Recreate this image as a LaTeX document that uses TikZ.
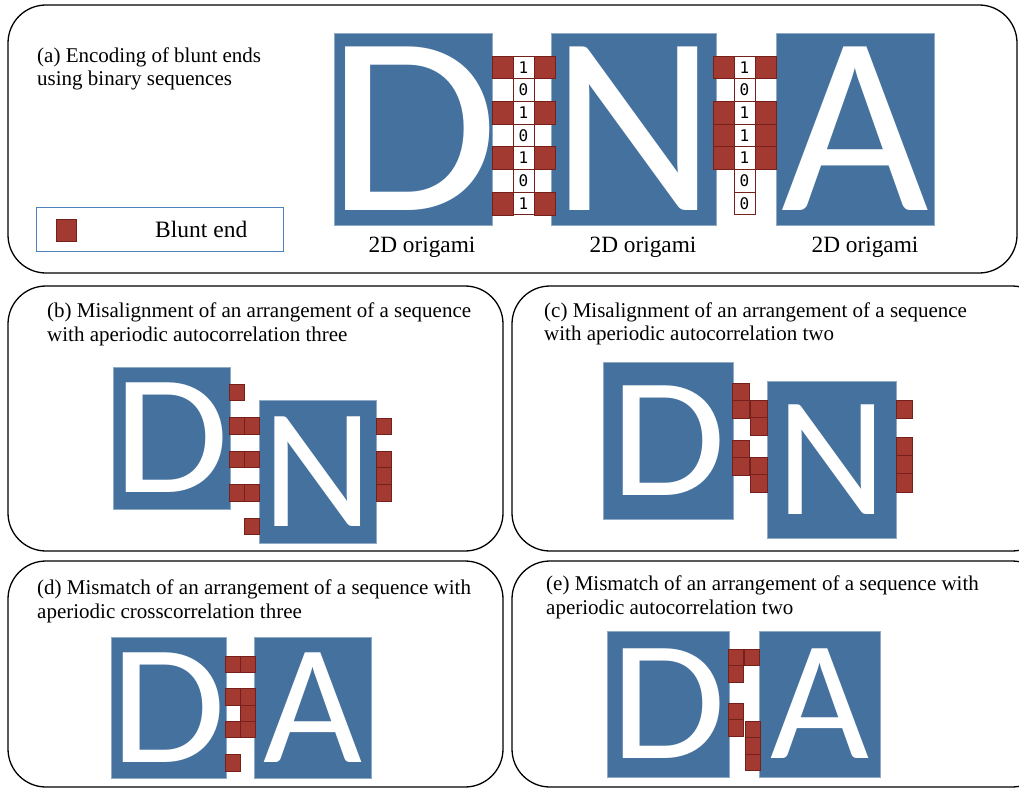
\documentclass[tikz,border=0pt]{standalone}
\usepackage{fontspec}
\setmainfont{Liberation Serif}
\newfontfamily\lettfont{Carlito}
\newfontfamily\bitfont{DejaVu Sans Mono}
\definecolor{origami}{RGB}{68,113,158}
\definecolor{bluntfill}{RGB}{163,58,50}
\definecolor{bluntedge}{RGB}{118,32,28}
\definecolor{legendedge}{RGB}{79,129,189}
\newcommand\wideD{\makebox[0pt]{\scalebox{1.1}[1]{D}}}
\tikzset{
  panel/.style={draw=black, line width=1.3pt, rounded corners=38pt},
  origami/.style={fill=origami, draw=origami!60!white, line width=0.5pt, text=white, inner sep=0pt},
  bigletter/.style={font=\lettfont\fontsize{255}{255}\selectfont},
  letter/.style={font=\lettfont\fontsize{171}{171}\selectfont},
  blunt/.style={fill=bluntfill, draw=bluntedge, line width=0.7pt},
  bitbox/.style={fill=white, draw=bluntedge, line width=0.9pt, inner sep=0pt,
    minimum width=21pt, minimum height=22.7pt, font=\bitfont\fontsize{16}{16}\selectfont},
  caption/.style={anchor=base west, inner sep=0pt, font=\fontsize{21}{24}\selectfont},
  origlabel/.style={anchor=base, inner sep=0pt, font=\fontsize{23.3}{23}\selectfont},
}
\begin{document}
\begin{tikzpicture}[x=1pt,y=-1pt]
\useasboundingbox (0,0) rectangle (1019,789);
\clip (0,0) rectangle (1019,789);

% ---------- frames of the five panels ----------
\draw[panel] (8,5) rectangle (1017,273);
\draw[panel] (8,286) rectangle (503,551);
\draw[panel] (512,286) rectangle (1050,551);
\draw[panel] (8,561) rectangle (503,787);
\draw[panel] (512,561) rectangle (1050,787);

% ---------- (a) encoding ----------
\node[caption] (capa1) at (37,63) {(a) Encoding of blunt ends};
\node[caption] (capa2) at (37,86) {using binary sequences};

\node[draw=legendedge, line width=1pt, minimum width=247pt, minimum height=44pt, inner sep=0pt] (legend) at (159.5,229) {};
\draw[blunt] (56,219) rectangle (76,241);
\node[anchor=base west, inner sep=0pt, font=\fontsize{23.5}{23}\selectfont] (legtext) at (155,237) {Blunt end};

\node[origami, bigletter, minimum width=158pt, minimum height=192pt] (Da) at (413,129) {\wideD};
\node[origami, bigletter, minimum width=158pt, minimum height=192pt] (Na) at (634,129) {N};
\node[origami, bigletter, minimum width=158pt, minimum height=192pt] (Aa) at (855,129) {A};

\node[origlabel] (lD) at (422,252) {2D origami};
\node[origlabel] (lN) at (643,252) {2D origami};
\node[origlabel] (lA) at (865,252) {2D origami};

% binary column between D and N
\foreach \b [count=\i from 0] in {1,0,1,0,1,0,1}{
  \pgfmathsetmacro\yy{56+\i*22.7}
  \ifnum\b=1
    \draw[blunt] (492,\yy) rectangle ++(21,22.7);
    \draw[blunt] (534,\yy) rectangle ++(21,22.7);
  \fi
  \node[bitbox] (dn\i) at (523.5,\yy+11.35) {\b};
}
% binary column between N and A
\foreach \b [count=\i from 0] in {1,0,1,1,1,0,0}{
  \pgfmathsetmacro\yy{56+\i*22.7}
  \ifnum\b=1
    \draw[blunt] (713,\yy) rectangle ++(21,22.7);
    \draw[blunt] (755,\yy) rectangle ++(21,22.7);
  \fi
  \node[bitbox] (na\i) at (744.5,\yy+11.35) {\b};
}

% ---------- (b) ----------
\node[caption] (capb1) at (47,317) {(b) Misalignment of an arrangement of a sequence};
\node[caption] (capb2) at (47,341) {with aperiodic autocorrelation three};
\node[origami, letter, minimum width=117pt, minimum height=142pt] (Db) at (171.5,438) {\wideD};
\node[origami, letter, minimum width=117pt, minimum height=143pt] (Nb) at (317.5,471.5) {N};
\foreach \y in {384,417.5,451,484.5} \draw[blunt] (229,\y) rectangle ++(15,16.7);
\foreach \y in {417.5,451,484.5,518} \draw[blunt] (244,\y) rectangle ++(15,16.7);
\foreach \y in {418,451,467.7,484.4} \draw[blunt] (376,\y) rectangle ++(15,16.7);

% ---------- (c) ----------
\node[caption] (capc1) at (544,317) {(c) Misalignment of an arrangement of a sequence};
\node[caption] (capc2) at (544,340) {with aperiodic autocorrelation two};
\node[origami, letter, minimum width=130pt, minimum height=157pt] (Dc) at (668,440.5) {\wideD};
\node[origami, letter, minimum width=129pt, minimum height=157pt] (Nc) at (831.5,459.5) {N};
\foreach \y in {383,400.5,440,457.5} \draw[blunt] (732,\y) rectangle ++(17,17.5);
\foreach \y in {400,417.5,457,474.5} \draw[blunt] (750,\y) rectangle ++(17,17.5);
\foreach \y in {400,437,455.3,473.6} \draw[blunt] (896,\y) rectangle ++(16,18.3);

% ---------- (d) ----------
\node[caption] (capd1) at (37,594) {(d) Mismatch of an arrangement of a sequence with};
\node[caption] (capd2) at (37,618) {aperiodic crosscorrelation three};
\node[origami, letter, minimum width=115pt, minimum height=141pt] (Dd) at (168.5,707.5) {\wideD};
\node[origami, letter, minimum width=117pt, minimum height=141pt] (Ad) at (312.5,707.5) {A};
\foreach \y in {656,688.6,721.2,754.8} \draw[blunt] (225,\y) rectangle ++(15,16.3);
\foreach \y in {656,688.6,704.9,721.2} \draw[blunt] (240,\y) rectangle ++(15,16.3);

% ---------- (e) ----------
\node[caption] (cape1) at (546,590) {(e) Mismatch of an arrangement of a sequence with};
\node[caption] (cape2) at (546,614) {aperiodic autocorrelation two};
\node[origami, letter, minimum width=122pt, minimum height=146pt] (De) at (668,704) {\wideD};
\node[origami, letter, minimum width=121pt, minimum height=146pt] (Ae) at (819.5,704) {A};
\foreach \y in {649,665.5,703,719.5} \draw[blunt] (728,\y) rectangle ++(15,16.5);
\draw[blunt] (744,649) rectangle ++(15,16.5);
\foreach \y in {721,737.5,754} \draw[blunt] (745,\y) rectangle ++(15,16.5);
\end{tikzpicture}
\end{document}
